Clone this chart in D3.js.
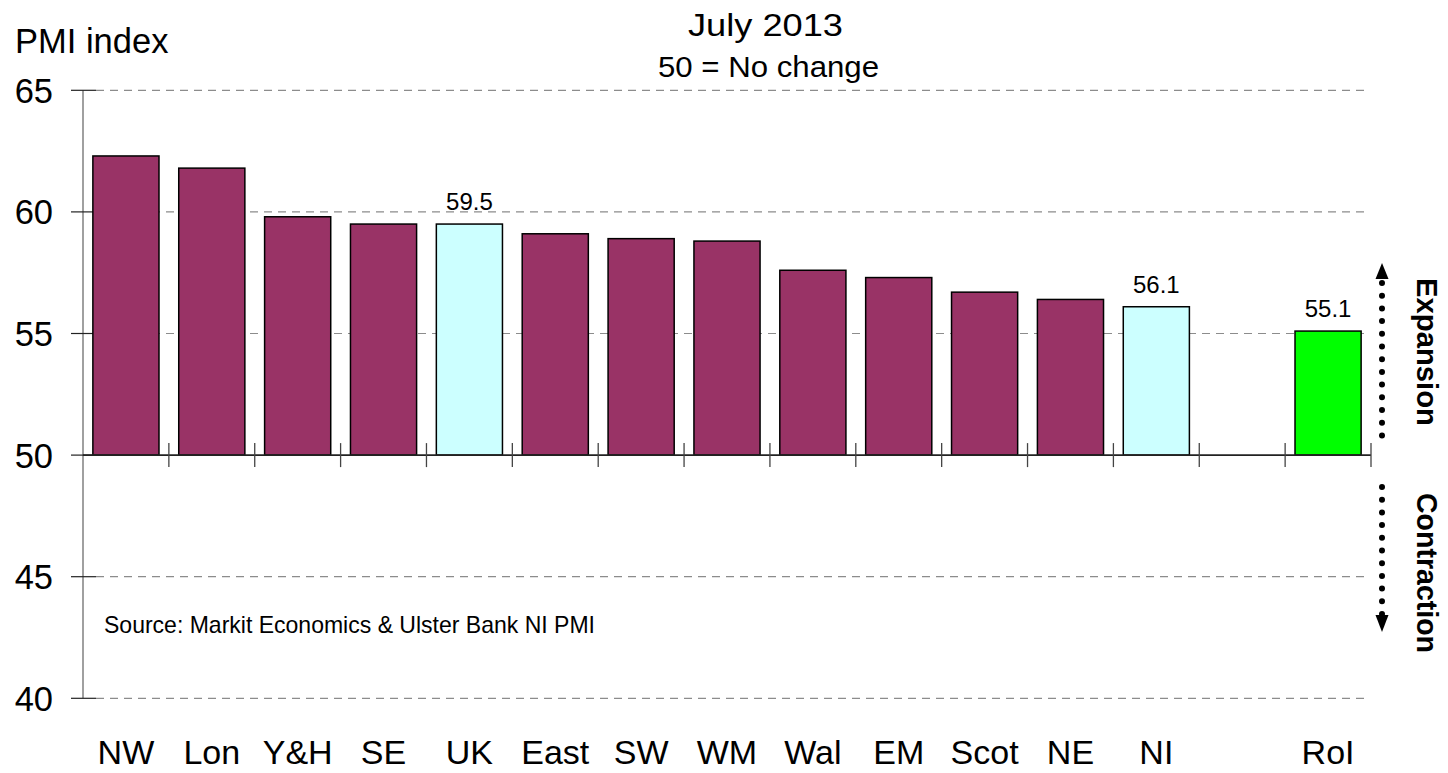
<!DOCTYPE html>
<html>
<head>
<meta charset="utf-8">
<script src="https://cdn.jsdelivr.net/npm/d3@7"></script>
<style>
  html, body { margin: 0; padding: 0; background: #fff; }
  svg { display: block; font-family: "Liberation Sans", Arial, sans-serif; }
</style>
</head>
<body>
<svg id="chart" width="1448" height="773"></svg>
<script>
// Regional PMI readings, July 2013 (an empty slot separates RoI from the UK regions)
const categories = ["NW", "Lon", "Y&H", "SE", "UK", "East", "SW", "WM", "Wal", "EM", "Scot", "NE", "NI", "", "RoI"];
const values     = [62.3, 61.8, 59.8, 59.5, 59.5, 59.1, 58.9, 58.8, 57.6, 57.3, 56.7, 56.4, 56.1, null, 55.1];
const barKinds   = ["region", "region", "region", "region", "uk", "region", "region", "region", "region", "region", "region", "region", "uk", "none", "roi"];
const labelled   = ["UK", "NI", "RoI"];
const yTicks     = [40, 45, 50, 55, 60, 65];
const baseline   = 50;

const fills = { region: "#993366", uk: "#CCFFFF", roi: "#00FF00" };

const svg = d3.select("#chart");

const x = d3.scaleBand()
  .domain(d3.range(categories.length))
  .range([83, 1371])
  .paddingInner(0.23)
  .paddingOuter(0.115);

const y = d3.scaleLinear().domain([40, 65]).range([698.3, 90.3]);

// Horizontal dashed gridlines (the 50 line is the category axis)
svg.append("g")
  .selectAll("line")
  .data(yTicks.filter(t => t !== baseline))
  .join("line")
  .attr("x1", 96).attr("x2", 1367)
  .attr("y1", d => y(d)).attr("y2", d => y(d))
  .attr("stroke", "#8c8c8c")
  .attr("stroke-width", 1.2)
  .attr("stroke-dasharray", "8,6");

// Value axis
const yAxis = svg.append("g");
yAxis.append("line")
  .attr("x1", 83).attr("x2", 83)
  .attr("y1", y(65)).attr("y2", y(40))
  .attr("stroke", "#808080").attr("stroke-width", 1.5);
yAxis.selectAll("line.tick")
  .data(yTicks)
  .join("line")
  .attr("class", "tick")
  .attr("x1", 71).attr("x2", 96)
  .attr("y1", d => y(d)).attr("y2", d => y(d))
  .attr("stroke", "#222").attr("stroke-width", 1.2);
yAxis.selectAll("text")
  .data(yTicks)
  .join("text")
  .attr("x", 53)
  .attr("y", d => y(d) + 12.5)
  .attr("text-anchor", "end")
  .attr("font-size", 34.5)
  .attr("fill", "#000")
  .text(d => d);

// Bars rise from the 50 "no change" line
const data = categories.map((c, i) => ({ i, c, v: values[i], kind: barKinds[i] }));
svg.append("g")
  .selectAll("rect")
  .data(data.filter(d => d.v != null))
  .join("rect")
  .attr("x", d => x(d.i))
  .attr("width", x.bandwidth())
  .attr("y", d => y(Math.max(d.v, baseline)))
  .attr("height", d => Math.abs(y(d.v) - y(baseline)))
  .attr("fill", d => fills[d.kind])
  .attr("stroke", "#000")
  .attr("stroke-width", 1.5);

// Category axis along the 50 line
const xAxis = svg.append("g");
xAxis.append("line")
  .attr("x1", 83).attr("x2", 1371)
  .attr("y1", y(baseline)).attr("y2", y(baseline))
  .attr("stroke", "#222").attr("stroke-width", 1.6);
xAxis.selectAll("line.tick")
  .data(d3.range(1, categories.length + 1))
  .join("line")
  .attr("class", "tick")
  .attr("x1", k => x.range()[0] + k * x.step())
  .attr("x2", k => x.range()[0] + k * x.step())
  .attr("y1", y(baseline) - 12).attr("y2", y(baseline) + 12)
  .attr("stroke", "#444").attr("stroke-width", 1.3);
xAxis.selectAll("text")
  .data(data)
  .join("text")
  .attr("x", d => x(d.i) + x.bandwidth() / 2)
  .attr("y", 764)
  .attr("text-anchor", "middle")
  .attr("font-size", 34)
  .attr("fill", "#000")
  .text(d => d.c);

// Value labels on the highlighted bars
svg.append("g")
  .selectAll("text")
  .data(data.filter(d => labelled.includes(d.c)))
  .join("text")
  .attr("x", d => x(d.i) + x.bandwidth() / 2)
  .attr("y", d => y(d.v) - 14)
  .attr("text-anchor", "middle")
  .attr("font-size", 24)
  .attr("fill", "#000")
  .text(d => d3.format(".1f")(d.v));

// Titles and notes
svg.append("text")
  .attr("x", 15).attr("y", 53)
  .attr("font-size", 34.5)
  .text("PMI index");
svg.append("text")
  .attr("x", 688).attr("y", 36)
  .attr("font-size", 31)
  .attr("textLength", 155).attr("lengthAdjust", "spacingAndGlyphs")
  .text("July 2013");
svg.append("text")
  .attr("x", 658).attr("y", 77)
  .attr("font-size", 29)
  .attr("textLength", 221).attr("lengthAdjust", "spacingAndGlyphs")
  .text("50 = No change");
svg.append("text")
  .attr("x", 104).attr("y", 633)
  .attr("font-size", 24)
  .attr("textLength", 491).attr("lengthAdjust", "spacingAndGlyphs")
  .text("Source: Markit Economics & Ulster Bank NI PMI");

// Expansion / contraction indicator arrows
const arrows = svg.append("g");
const ax = 1382;
arrows.append("line")
  .attr("x1", ax).attr("x2", ax)
  .attr("y1", 283).attr("y2", 436)
  .attr("stroke", "#000").attr("stroke-width", 6)
  .attr("stroke-linecap", "round")
  .attr("stroke-dasharray", "0,12.7");
arrows.append("path")
  .attr("d", `M${ax},263 L${ax - 6.5},279 L${ax + 6.5},279 Z`)
  .attr("fill", "#000");
arrows.append("line")
  .attr("x1", ax).attr("x2", ax)
  .attr("y1", 487).attr("y2", 614)
  .attr("stroke", "#000").attr("stroke-width", 6)
  .attr("stroke-linecap", "round")
  .attr("stroke-dasharray", "0,12.7");
arrows.append("path")
  .attr("d", `M${ax},632 L${ax - 6.5},615 L${ax + 6.5},615 Z`)
  .attr("fill", "#000");

arrows.append("text")
  .attr("transform", "translate(1417,278) rotate(90)")
  .attr("font-size", 29).attr("font-weight", "bold")
  .attr("textLength", 148).attr("lengthAdjust", "spacingAndGlyphs")
  .text("Expansion");
arrows.append("text")
  .attr("transform", "translate(1417,493) rotate(90)")
  .attr("font-size", 29).attr("font-weight", "bold")
  .attr("textLength", 160).attr("lengthAdjust", "spacingAndGlyphs")
  .text("Contraction");
</script>
</body>
</html>
